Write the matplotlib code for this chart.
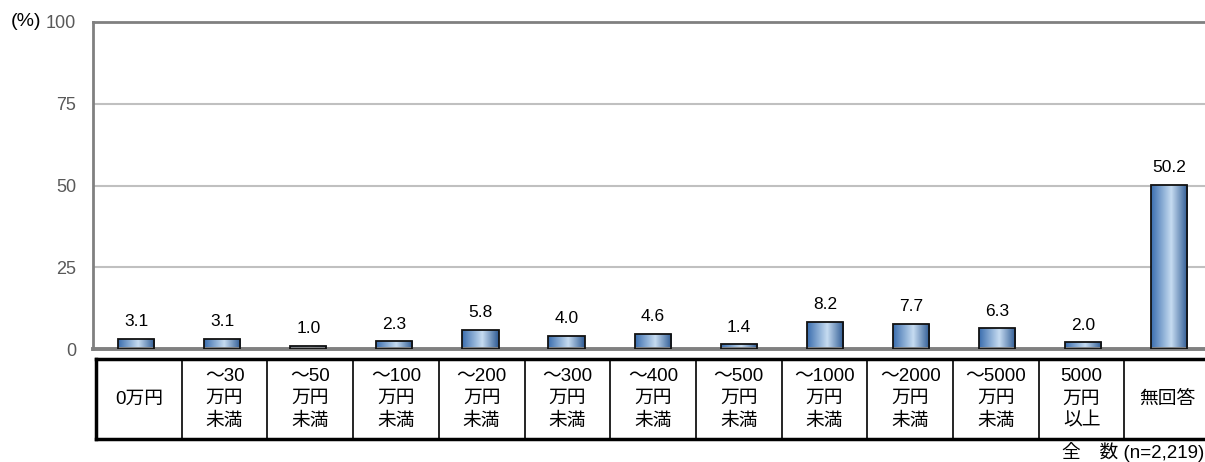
import matplotlib.pyplot as plt
import numpy as np
from matplotlib.colors import LinearSegmentedColormap

plt.rcParams['font.family'] = ['Liberation Sans', 'Noto Sans CJK JP', 'DejaVu Sans']

labels = ['0万円', '～30\n万円\n未満', '～50\n万円\n未満', '～100\n万円\n未満', '～200\n万円\n未満',
          '～300\n万円\n未満', '～400\n万円\n未満', '～500\n万円\n未満', '～1000\n万円\n未満',
          '～2000\n万円\n未満', '～5000\n万円\n未満', '5000\n万円\n以上', '無回答']
values = [3.1, 3.1, 1.0, 2.3, 5.8, 4.0, 4.6, 1.4, 8.2, 7.7, 6.3, 2.0, 50.2]
yticks = [0, 25, 50, 75, 100]

W, H = 1205, 462
fig = plt.figure(figsize=(W / 100, H / 100), dpi=100)

# main plot area (px coordinates from the reference)
ax = fig.add_axes([93 / W, 1 - 349 / H, 13 * 86.1 / W, (349 - 22) / H])
x = np.arange(len(values))
bw = 0.42
bars = ax.bar(x, values, width=bw, facecolor='none', edgecolor='#111111', linewidth=1.3, zorder=3)

cmap = LinearSegmentedColormap.from_list('bar', [(0, '#3a6dae'), (0.55, '#c6dcf1'), (1, '#2c5892')])
grad = np.linspace(0, 1, 256).reshape(1, -1)
for b in bars:
    im = ax.imshow(grad, cmap=cmap, aspect='auto', zorder=2,
                   extent=[b.get_x(), b.get_x() + b.get_width(), 0, b.get_height()])
    im.set_clip_path(b)
    ax.text(b.get_x() + b.get_width() / 2, b.get_height() + 3.0, f'{b.get_height():.1f}',
            ha='center', va='bottom', fontsize=12.5, color='black')

ax.set_xlim(-0.5, len(values) - 0.5)
ax.set_ylim(0, 100)
ax.set_yticks(yticks)
ax.set_xticks([])
ax.tick_params(axis='y', length=0, pad=12, labelsize=13, labelcolor='#595959')
ax.yaxis.grid(True, color='#c0c0c0', linewidth=1.5)
ax.set_axisbelow(True)
for s in ['left', 'top', 'bottom']:
    ax.spines[s].set_color('#808080')
    ax.spines[s].set_linewidth(2)
ax.spines['bottom'].set_linewidth(2.8)
ax.spines['right'].set_visible(False)
fig.text(11 / W, 1 - 22 / H, '(%)', ha='left', va='center', fontsize=14, color='black')

# category table below the axis
tax = fig.add_axes([96 / W, 1 - 439 / H, 13 * 85.7 / W, (439 - 359) / H])
tax.set_xlim(-0.5, len(values) - 0.5)
tax.set_ylim(0, 1)
tax.axis('off')
tax.plot([-0.5, len(values) - 0.5], [1, 1], color='black', lw=2.5, clip_on=False)
tax.plot([-0.5, len(values) - 0.5], [0, 0], color='black', lw=2.5, clip_on=False)
tax.plot([-0.5, -0.5], [0, 1], color='black', lw=2.5, clip_on=False)
for i in range(1, len(values)):
    tax.plot([i - 0.5, i - 0.5], [0, 1], color='black', lw=1.2)
for i, lab in enumerate(labels):
    tax.text(i, 0.5, lab, ha='center', va='center', fontsize=13.5, linespacing=1.4)

fig.text(1204 / W, 1 - 452 / H, '全\u3000数 (n=2,219)', ha='right', va='center', fontsize=13.5)

fig.savefig('out.png', dpi=100)
